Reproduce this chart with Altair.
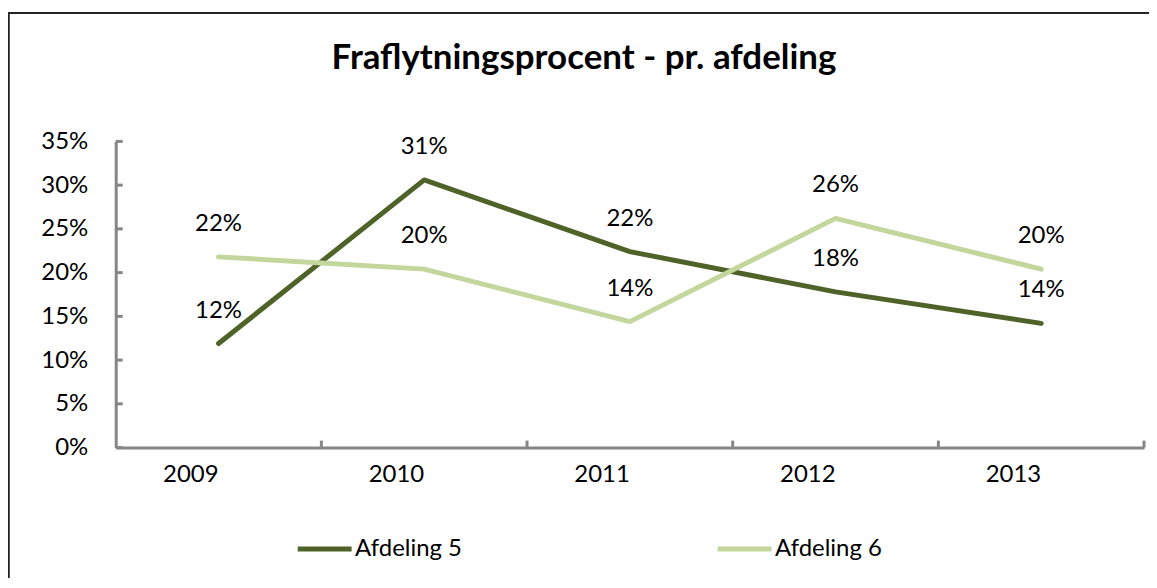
import altair as alt
import pandas as pd

years = ["2009", "2010", "2011", "2012", "2013"]
series_names = ["Afdeling 5", "Afdeling 6"]
afd5 = [0.119, 0.306, 0.224, 0.178, 0.142]
afd6 = [0.218, 0.204, 0.144, 0.262, 0.204]
y_ticks = [0, 0.05, 0.10, 0.15, 0.20, 0.25, 0.30, 0.35]
colors = ["#4F6228", "#C3D69B"]

rows = []
for name, vals in zip(series_names, [afd5, afd6]):
    for yr, v in zip(years, vals):
        rows.append({"year": yr, "series": name, "value": v})
df = pd.DataFrame(rows)
df_years = pd.DataFrame({"year": years})
df_yt = pd.DataFrame({"value": y_ticks})

FONT = "Lato"
FS = 24
AXIS_GRAY = "#868686"
W, H = 1031, 307

xscale = alt.Scale(type="band", domain=years, paddingInner=0, paddingOuter=0)
yscale = alt.Scale(domain=[0, 0.35], nice=False)

x_enc = alt.X("year:N", scale=xscale, sort=years,
              axis=alt.Axis(title=None, ticks=False, grid=False, labelAngle=0,
                            domainColor=AXIS_GRAY, domainWidth=3,
                            labelFont=FONT, labelFontSize=FS, labelColor="black",
                            labelPadding=27))
y_enc = alt.Y("value:Q", scale=yscale,
              axis=alt.Axis(title=None, ticks=False, grid=False, format="%",
                            values=y_ticks, domainColor=AXIS_GRAY, domainWidth=3,
                            labelFont=FONT, labelFontSize=FS, labelColor="black",
                            labelPadding=28))

lines = alt.Chart(df).mark_line(strokeWidth=5, strokeCap="round", strokeJoin="round").encode(
    x=x_enc,
    y=y_enc,
    color=alt.Color("series:N",
                    scale=alt.Scale(domain=series_names, range=colors),
                    legend=alt.Legend(title=None, orient="none", direction="horizontal",
                                      legendX=180, legendY=379,
                                      symbolType="stroke", symbolSize=2916,
                                      symbolStrokeWidth=5, labelFont=FONT,
                                      labelFontSize=FS, labelColor="black",
                                      labelOffset=1, columnPadding=245)),
)

labels = alt.Chart(df).mark_text(dy=-33, font=FONT, fontSize=FS, color="black").encode(
    x=alt.X("year:N", scale=xscale, sort=years),
    y=alt.Y("value:Q", scale=yscale),
    text=alt.Text("value:Q", format=".0%"),
)

xticks = alt.Chart(df_years).mark_rule(color=AXIS_GRAY, strokeWidth=3).encode(
    x=alt.X("year:N", scale=xscale, sort=years, bandPosition=1),
    y=alt.value(H - 7),
    y2=alt.value(H),
)

yticks = alt.Chart(df_yt).mark_rule(color=AXIS_GRAY, strokeWidth=3).encode(
    y=alt.Y("value:Q", scale=yscale),
    x=alt.value(0),
    x2=alt.value(7),
)

frame_left = alt.Chart(df_years).mark_rule(color="#222222", strokeWidth=1.5).encode(
    x=alt.value(-107.5), y=alt.value(-129), y2=alt.value(H + 300)
)
frame_top = alt.Chart(df_years).mark_rule(color="#222222", strokeWidth=1.5).encode(
    y=alt.value(-129), x=alt.value(-107.5), x2=alt.value(W + 200)
)

chart = alt.layer(frame_left, frame_top, xticks, yticks, lines, labels).properties(
    width=W,
    height=H,
    autosize="none",
    padding={"left": 108, "top": 133, "right": 5, "bottom": 130},
    title=alt.Title("Fraflytningsprocent - pr. afdeling", font=FONT, fontSize=35,
                    fontWeight="bold", color="black", anchor="middle", frame="group",
                    dx=-46, offset=-64),
).configure_view(stroke=None)

chart.save("out.html", embed_options={"renderer": "svg", "actions": False})
